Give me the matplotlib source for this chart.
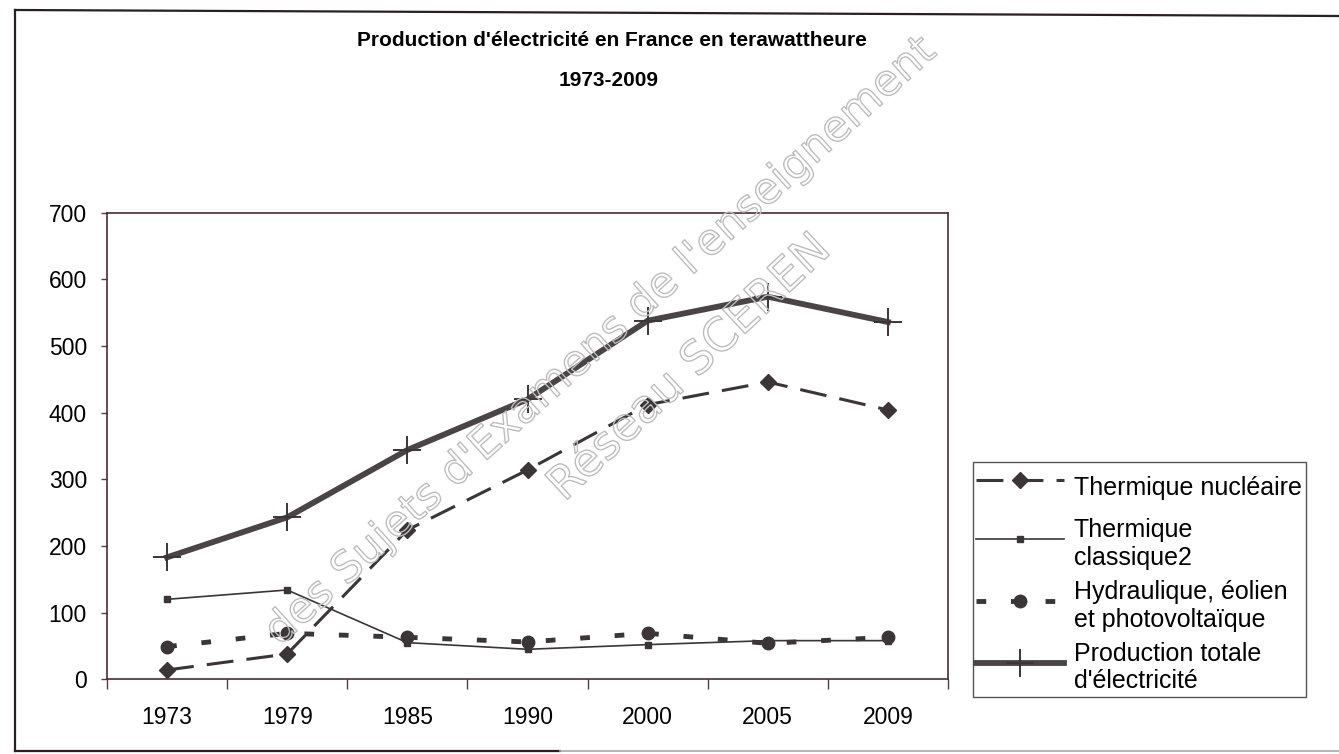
import numpy as np
import matplotlib
matplotlib.use('Agg')
import matplotlib.pyplot as plt
from matplotlib.lines import Line2D
import matplotlib.patheffects as pe

plt.rcParams['font.family'] = ['Liberation Sans', 'DejaVu Sans']

# données (TWh)
annees = ['1973', '1979', '1985', '1990', '2000', '2005', '2009']
nucleaire = [14, 38, 224, 314, 412, 446, 404]
classique = [120, 134, 55, 45, 52, 58, 58]
hydraulique = [49, 69, 63, 56, 69, 54, 63]
totale = [183, 243, 344, 420, 538, 574, 536]

W, H = 1339, 754
fig = plt.figure(figsize=(W / 100, H / 100), dpi=100)
fig.patch.set_facecolor('white')

# zone de tracé
ax = fig.add_axes([107 / W, 1 - 679.3 / H, (948 - 107) / W, (679.3 - 212.7) / H])
x = np.arange(len(annees))
c = '#3b3537'

l1, = ax.plot(x, nucleaire, color=c, lw=2.2, dashes=(8.8, 4.3),
              marker='D', ms=8, mfc=c, mec=c, label='Thermique nucléaire')
l2, = ax.plot(x, classique, color=c, lw=1.2,
              marker='s', ms=5, mfc=c, mec=c, label='Thermique\nclassique2')
l3, = ax.plot(x, hydraulique, color=c, lw=3.5, dashes=(2.0, 5.1),
              dash_capstyle='butt', marker='o', ms=9, mfc=c, mec=c,
              label='Hydraulique, éolien\net photovoltaïque')
l4, = ax.plot(x, totale, color='#4a4446', lw=4.2,
              marker='+', ms=20, mew=1.4, mec='#3b3537',
              label="Production totale\nd'électricité")

ax.set_xlim(-0.5, len(annees) - 0.5)
ax.set_ylim(0, 700)
ax.set_yticks(range(0, 701, 100))
ax.set_xticks(x)
ax.set_xticklabels(annees)
ax.set_xticks(np.arange(-0.5, len(annees), 1), minor=True)
ax.tick_params(axis='x', which='major', length=0, pad=19, labelsize=16.5)
ax.tick_params(axis='x', which='minor', length=7, width=1, color='#5a3a44', direction='out')
ax.tick_params(axis='y', length=4.5, width=1, color='#5a3a44', pad=10, labelsize=16.5)
for s in ax.spines.values():
    s.set_color('#4b2b35')
    s.set_linewidth(1.2)

# titre
fig.text(612 / W, 1 - 40 / H, "Production d'électricité en France en terawattheure",
         ha='center', va='center', fontsize=15, fontweight='bold')
fig.text(609 / W, 1 - 80 / H, '1973-2009',
         ha='center', va='center', fontsize=15, fontweight='bold')

# légende
leg = fig.legend(handles=[l1, l2, l3, l4], loc='upper left',
                 bbox_to_anchor=(972.7 / W, 1 - 462.3 / H),
                 bbox_transform=fig.transFigure, fontsize=18,
                 frameon=True, fancybox=False, framealpha=1,
                 edgecolor='#555555', borderpad=0.15, borderaxespad=0,
                 handlelength=3.5, handletextpad=0.4, handleheight=2.2,
                 labelspacing=0.4, numpoints=1)
leg.get_frame().set_linewidth(1.0)

# filigrane
wm = [pe.withStroke(linewidth=1.0, foreground='#bdbdbd')]
fig.text(600 / W, 1 - 342 / H, "des Sujets d'Examens de l'enseignement",
         rotation=42, ha='center', va='center', fontsize=31,
         color=(1, 1, 1, 0), path_effects=wm, family='DejaVu Sans')
fig.text(690 / W, 1 - 368 / H, 'Réseau SCEREN',
         rotation=43, ha='center', va='center', fontsize=33,
         color=(1, 1, 1, 0), path_effects=wm, family='DejaVu Sans')

# cadre extérieur
fig.add_artist(Line2D([15 / W, 1], [1 - 10 / H, 1 - 16 / H], color='#2a1f24', lw=1.6))
fig.add_artist(Line2D([15 / W, 15 / W], [1 - 10 / H, 1 - 751 / H], color='#2a1f24', lw=1.6))
fig.add_artist(Line2D([15 / W, 560 / W], [1 - 751 / H, 1 - 751 / H], color='#2a1f24', lw=1.6))
fig.add_artist(Line2D([560 / W, 1], [1 - 751 / H, 1 - 751 / H], color='#aaaaaa', lw=1.2))

fig.savefig('out.png', dpi=100)
